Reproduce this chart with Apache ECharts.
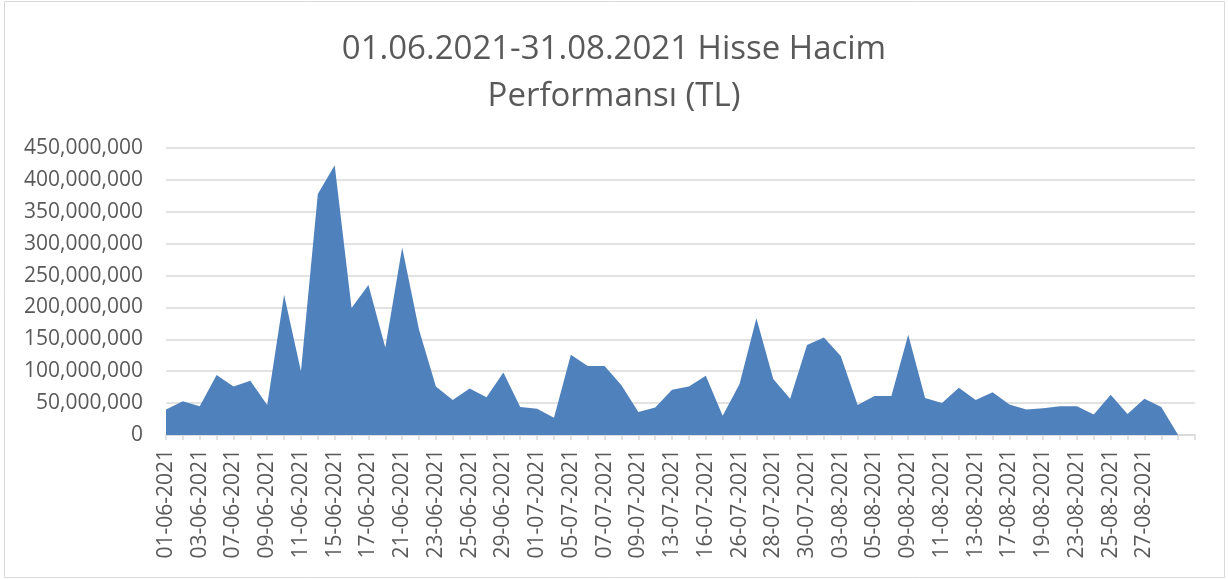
<!DOCTYPE html>
<html>
<head>
<meta charset="utf-8">
<title>Hisse Hacim Performansı</title>
<script src="https://cdn.jsdelivr.net/npm/echarts@6/dist/echarts.min.js"></script>
<style>
  html, body { margin: 0; padding: 0; background: #fff; }
  #chart { width: 1228px; height: 579px; }
</style>
</head>
<body>
<div id="chart"></div>
<script>
// işlem günleri (son iki boş satır Excel'deki gibi sıfır)
const dates = [
  '01-06-2021', '02-06-2021', '03-06-2021', '04-06-2021', '07-06-2021', '08-06-2021',
  '09-06-2021', '10-06-2021', '11-06-2021', '14-06-2021', '15-06-2021', '16-06-2021',
  '17-06-2021', '18-06-2021', '21-06-2021', '22-06-2021', '23-06-2021', '24-06-2021',
  '25-06-2021', '28-06-2021', '29-06-2021', '30-06-2021',
  '01-07-2021', '02-07-2021', '05-07-2021', '06-07-2021', '07-07-2021', '08-07-2021',
  '09-07-2021', '12-07-2021', '13-07-2021', '14-07-2021', '16-07-2021', '19-07-2021',
  '26-07-2021', '27-07-2021', '28-07-2021', '29-07-2021', '30-07-2021',
  '02-08-2021', '03-08-2021', '04-08-2021', '05-08-2021', '06-08-2021', '09-08-2021',
  '10-08-2021', '11-08-2021', '12-08-2021', '13-08-2021', '16-08-2021', '17-08-2021',
  '18-08-2021', '19-08-2021', '20-08-2021', '23-08-2021', '24-08-2021', '25-08-2021',
  '26-08-2021', '27-08-2021', '31-08-2021', '', ''
];

// günlük hacim (TL)
const volume = [
  40e6, 53e6, 45e6, 94e6, 76e6, 85e6, 47e6, 220e6, 100e6, 378e6, 423e6, 199e6,
  235e6, 137e6, 294e6, 165e6, 76e6, 55e6, 73e6, 59e6, 98e6, 44e6,
  41e6, 27e6, 126e6, 108e6, 108e6, 78e6, 36e6, 43e6, 71e6, 76e6, 93e6, 30e6,
  80e6, 183e6, 88e6, 57e6, 141e6,
  153e6, 124e6, 47e6, 61e6, 61e6, 157e6, 58e6, 50e6, 74e6, 55e6, 67e6, 48e6,
  40e6, 42e6, 45e6, 45e6, 32e6, 63e6, 33e6, 57e6, 44e6, 0, 0
];

const yTicks = [0, 50e6, 100e6, 150e6, 200e6, 250e6, 300e6, 350e6, 400e6, 450e6];

const textColor = '#595959';
const fontFamily = '"Open Sans", "Noto Sans", sans-serif';

const fmt = (v) => v === 0 ? '0' : v.toString().replace(/\B(?=(\d{3})+(?!\d))/g, ',');

const myChart = echarts.init(document.getElementById('chart'));

const options = {
  backgroundColor: '#fff',
  animation: false,
  title: {
    text: '01.06.2021-31.08.2021 Hisse Hacim\nPerformansı (TL)',
    left: 'center',
    top: 21,
    textStyle: {
      color: textColor,
      fontFamily: fontFamily,
      fontWeight: 'normal',
      fontSize: 33,
      lineHeight: 47
    }
  },
  graphic: [{
    type: 'rect',
    shape: { x: 4.5, y: 1.5, width: 1220, height: 576 },
    style: { fill: 'none', stroke: '#d9d9d9', lineWidth: 1 },
    silent: true
  }],
  grid: {
    left: 166,
    right: 33,
    top: 148,
    bottom: 144,
    containLabel: false
  },
  xAxis: {
    type: 'category',
    data: dates,
    boundaryGap: false,
    axisLine: { lineStyle: { color: '#d9d9d9', width: 1.5 } },
    axisTick: {
      interval: 0,
      length: 5,
      lineStyle: { color: '#d9d9d9', width: 1.5 }
    },
    axisLabel: {
      interval: 1,
      rotate: 90,
      margin: 14,
      color: textColor,
      fontFamily: fontFamily,
      fontSize: 21
    }
  },
  yAxis: {
    type: 'value',
    min: yTicks[0],
    max: yTicks[yTicks.length - 1],
    interval: yTicks[1] - yTicks[0],
    axisLine: { show: false },
    axisTick: { show: false },
    axisLabel: {
      margin: 23,
      color: textColor,
      fontFamily: fontFamily,
      fontSize: 21,
      formatter: fmt
    },
    splitLine: { lineStyle: { color: '#d9d9d9', width: 1.5 } }
  },
  series: [{
    name: 'Hacim',
    type: 'line',
    data: volume,
    symbol: 'none',
    lineStyle: { width: 0 },
    areaStyle: { color: '#4f81bd', opacity: 1 },
    itemStyle: { color: '#4f81bd' }
  }]
};

myChart.setOption(options);
</script>
</body>
</html>
